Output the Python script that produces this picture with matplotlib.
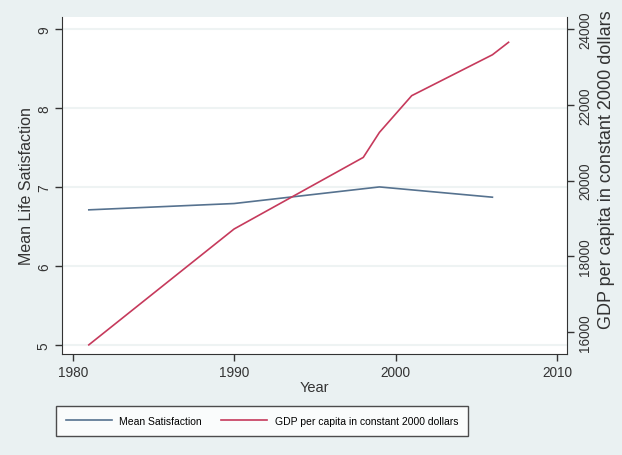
import matplotlib.pyplot as plt

# Mean life satisfaction by survey wave
sat_years = [1981, 1990, 1999, 2006]
sat_values = [6.71, 6.79, 7.00, 6.87]

# GDP per capita (constant 2000 dollars)
gdp_years = [1981, 1990, 1998, 1999, 2001, 2006, 2007]
gdp_values = [15660, 18720, 20610, 21270, 22240, 23320, 23650]

x_ticks = [1980, 1990, 2000, 2010]
sat_ticks = [5, 6, 7, 8, 9]
gdp_ticks = [16000, 18000, 20000, 22000, 24000]

plt.rcParams['font.family'] = ['Liberation Sans', 'DejaVu Sans']

blue = '#56728f'
red = '#c63a5c'

fig = plt.figure(figsize=(6.22, 4.56), dpi=100)
fig.patch.set_facecolor('#eaf1f2')

ax = fig.add_axes([0.0997, 0.2215, 0.8119, 0.739])
ax.set_facecolor('white')
ax2 = ax.twinx()

l1, = ax.plot(sat_years, sat_values, color=blue, lw=1.2)
l2, = ax2.plot(gdp_years, gdp_values, color=red, lw=1.2)

ax.set_xlim(1979.34, 2010.62)
ax.set_ylim(4.886, 9.15)
ax2.set_ylim(15419, 24317)

ax.set_xticks(x_ticks)
ax.set_yticks(sat_ticks)
ax2.set_yticks(gdp_ticks)
ax.set_yticklabels([str(t) for t in sat_ticks], rotation=90, va='center')
ax2.set_yticklabels([str(t) for t in gdp_ticks], rotation=90, va='center')

for t in sat_ticks:
    ax.axhline(t, color='#eef3f3', lw=1.5, zorder=0)

ax.tick_params(labelsize=9.8, color='#333333', labelcolor='#333333', length=5, width=1, pad=3)
ax2.tick_params(labelsize=9.8, color='#333333', labelcolor='#333333', length=5, width=1, pad=3)
for a in (ax, ax2):
    for s in ['top', 'right', 'left', 'bottom']:
        a.spines[s].set_visible(False)
ax.spines['left'].set_visible(True)
ax.spines['bottom'].set_visible(True)
ax2.spines['right'].set_visible(True)
ax.spines['left'].set_color('#333333')
ax.spines['bottom'].set_color('#333333')
ax2.spines['right'].set_color('#333333')

ax.set_xlabel('Year', fontsize=10.5, labelpad=1, color='#333333')
ax.set_ylabel('Mean Life Satisfaction', fontsize=11.5, labelpad=2, color='#333333')
ax2.set_ylabel('GDP per capita in constant 2000 dollars', fontsize=13, color='#333333')
ax2.yaxis.set_label_coords(1.062, 0.55)

leg = fig.legend([l1, l2], ['Mean Satisfaction', 'GDP per capita in constant 2000 dollars'],
                 loc='lower left', bbox_to_anchor=(56 / 622, 19 / 456),
                 ncol=2, fontsize=7.5, fancybox=False,
                 handlelength=4.4, handletextpad=0.7, borderaxespad=0,
                 columnspacing=1.9, borderpad=0.95)
leg.get_frame().set_edgecolor('#222222')
leg.get_frame().set_linewidth(1.0)

fig.savefig('out.png', dpi=100, facecolor=fig.get_facecolor())
